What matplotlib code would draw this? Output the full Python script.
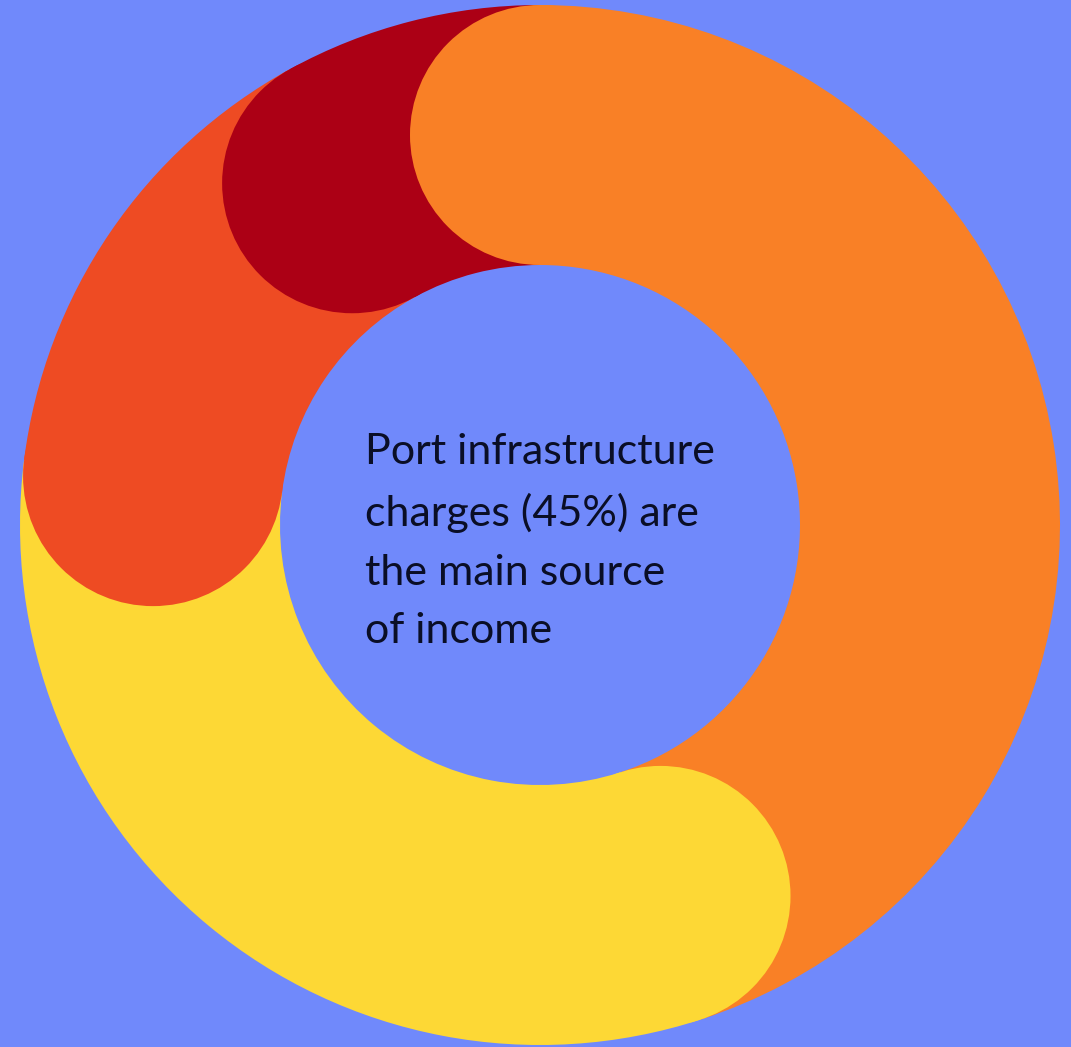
import matplotlib.pyplot as plt
from matplotlib.patches import Circle
import numpy as np

# income shares, clockwise from the top
labels = ["Port infrastructure charges", "Other income", "Rents", "Services"]
shares = [45, 32, 15, 8]
colors = ["#F98026", "#FDD835", "#EE4B23", "#AC0015"]
caption = "Port infrastructure\ncharges (45%) are\nthe main source\nof income"

bg = "#7089FB"
W, H = 1071, 1047
cx, cy = 540, 522
r_out, ring = 520, 260

fig = plt.figure(figsize=(W / 100, H / 100), dpi=100, facecolor=bg)
ax = fig.add_axes([0, 0, 1, 1])

ax.pie(shares, colors=colors, startangle=90, counterclock=False,
       center=(cx, cy), radius=r_out, frame=True,
       wedgeprops=dict(width=ring, linewidth=0))
ax.set_xlim(0, W)
ax.set_ylim(0, H)
ax.set_aspect("equal")
ax.axis("off")

# round cap at the start of each segment, laid over the end of the one before
r_mid = r_out - ring / 2
starts = 90 - 360 * np.concatenate([[0], np.cumsum(shares)[:-1]]) / sum(shares)
order = [3, 2, 1, 0]
for i in order:
    a = np.radians(starts[i])
    ax.add_patch(Circle((cx + r_mid * np.cos(a), cy + r_mid * np.sin(a)),
                        ring / 2, facecolor=colors[i], linewidth=0, zorder=3))

# baseline of the last line
ax.text(365, H - 643, caption, ha="left", va="baseline", fontsize=31,
        family="Lato", color="#0A0E26", linespacing=1.66, zorder=5)

fig.savefig("out.png", dpi=100, facecolor=bg)
